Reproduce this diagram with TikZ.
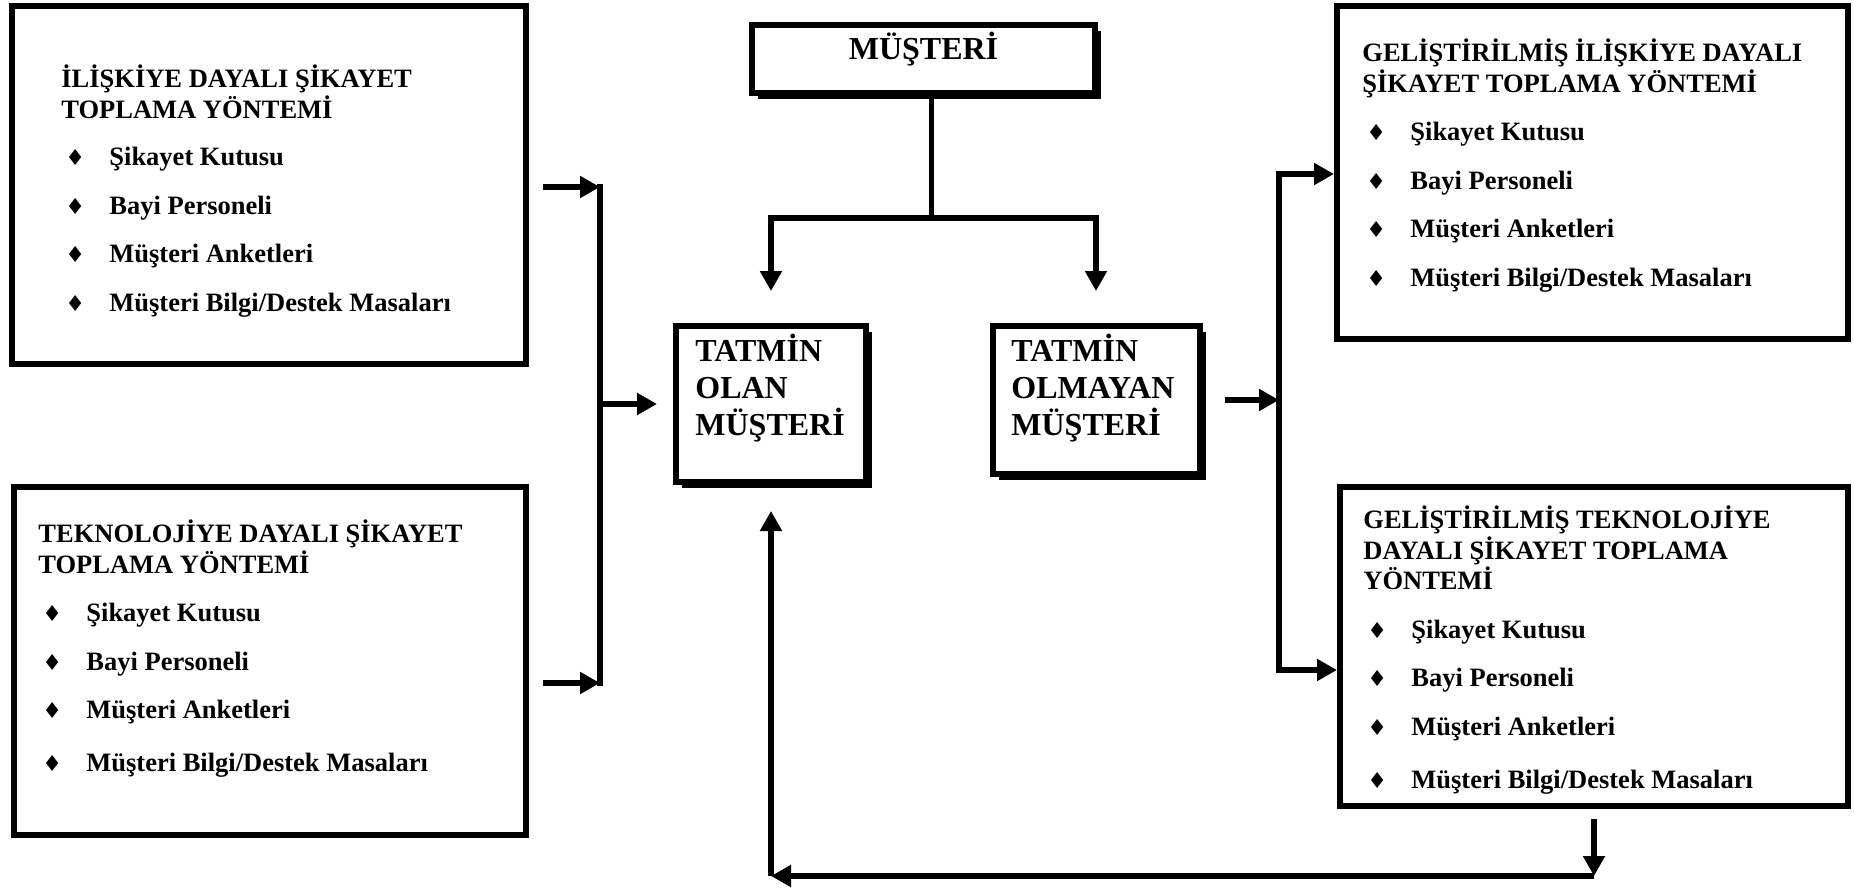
\documentclass[tikz,border=0pt]{standalone}
\usepackage{fontspec}
\setmainfont{Liberation Serif}
\newfontfamily\simgefont{DejaVu Sans}
\usetikzlibrary{arrows.meta,shadows}
\newcommand{\karo}{{\simgefont\fontsize{11}{11}\selectfont ♦}}
\newcommand{\madde}[1]{\hspace*{2pt}\makebox[22pt][l]{\karo}#1}
\newcommand{\ustdestek}{\rule{0pt}{12pt}}
\newcommand{\buyukdestek}{\rule{0pt}{14pt}}
\begin{document}
\begin{tikzpicture}[x=0.5pt, y=-0.5pt,
	kutu/.style={draw, line width=3pt, fill=white, inner sep=0pt},
	golgeli/.style={kutu, drop shadow={shadow xshift=3pt, shadow yshift=-3pt, fill=black, opacity=1}},
	yazi/.style={inner sep=0pt, align=left, anchor=north west, font=\bfseries\fontsize{13.25}{15.3}\selectfont},
	buyukyazi/.style={inner sep=0pt, align=left, anchor=north west, font=\bfseries\fontsize{16}{18.6}\selectfont},
	hat/.style={line width=2.7pt},
	ok/.style={line width=3.2pt, -{Triangle[length=10pt,width=10.5pt]}}]
	\useasboundingbox (0,0) rectangle (1854,888);
	% kutular
	\node[kutu, minimum width=257pt, minimum height=179pt] (iliski) at (269,185) {};
	\node[kutu, minimum width=256pt, minimum height=174pt] (teknoloji) at (270,661) {};
	\node[kutu, minimum width=255.5pt, minimum height=166.5pt] (gelIliski) at (1592.5,172.5) {};
	\node[kutu, minimum width=254pt, minimum height=159.5pt] (gelTeknoloji) at (1594,646.5) {};
	\node[golgeli, minimum width=171.5pt, minimum height=34pt] (musteri) at (923.5,59) {};
	\node[golgeli, minimum width=95pt, minimum height=78pt] (olan) at (771,404) {};
	\node[golgeli, minimum width=103.5pt, minimum height=74pt] (olmayan) at (1096,400) {};
	% yazilar
	\node[yazi] (iliskiYazi) at (61,63) {\ustdestek İLİŞKİYE DAYALI ŞİKAYET\\TOPLAMA YÖNTEMİ\\[8.5pt]
		\madde{Şikayet Kutusu}\\[9pt]\madde{Bayi Personeli}\\[9pt]\madde{Müşteri Anketleri}\\[9pt]\madde{Müşteri Bilgi/Destek Masaları}};
	\node[yazi] (teknolojiYazi) at (38,518) {\ustdestek TEKNOLOJİYE DAYALI ŞİKAYET\\TOPLAMA YÖNTEMİ\\[9pt]
		\madde{Şikayet Kutusu}\\[9pt]\madde{Bayi Personeli}\\[9pt]\madde{Müşteri Anketleri}\\[11pt]\madde{Müşteri Bilgi/Destek Masaları}};
	\node[yazi] (gelIliskiYazi) at (1362,37) {\ustdestek GELİŞTİRİLMİŞ İLİŞKİYE DAYALI\\ŞİKAYET TOPLAMA YÖNTEMİ\\[9pt]
		\madde{Şikayet Kutusu}\\[9pt]\madde{Bayi Personeli}\\[9pt]\madde{Müşteri Anketleri}\\[9pt]\madde{Müşteri Bilgi/Destek Masaları}};
	\node[yazi] (gelTeknolojiYazi) at (1363,504) {\ustdestek GELİŞTİRİLMİŞ TEKNOLOJİYE\\DAYALI ŞİKAYET TOPLAMA\\YÖNTEMİ\\[9pt]
		\madde{Şikayet Kutusu}\\[9pt]\madde{Bayi Personeli}\\[9pt]\madde{Müşteri Anketleri}\\[11pt]\madde{Müşteri Bilgi/Destek Masaları}};
	\node[buyukyazi, anchor=center] (musteriYazi) at ([yshift=5pt]musteri.center) {MÜŞTERİ};
	\node[buyukyazi] (olanYazi) at (695,333) {\buyukdestek TATMİN\\OLAN\\MÜŞTERİ};
	\node[buyukyazi] (olmayanYazi) at (1011,333) {\buyukdestek TATMİN\\OLMAYAN\\MÜŞTERİ};
	% musteri catali
	\coordinate (catal) at ([xshift=4pt, yshift=-61pt]musteri.south);
	\draw[hat] ([xshift=4pt]musteri.south) -- (catal);
	\draw[ok, shorten >=16pt] (catal) -| (olan.north);
	\draw[ok, shorten >=16pt] (catal) -| (olmayan.north);
	% sol baglanti
	\coordinate (solUst) at (600,187);
	\coordinate (solAlt) at (600,683);
	\draw[ok] ([xshift=7pt]iliski.east |- solUst) -- (solUst);
	\draw[ok] ([xshift=7pt]teknoloji.east |- solAlt) -- (solAlt);
	\draw[hat, line cap=rect] (solUst) -- (solAlt);
	\draw[ok, shorten >=8pt] (solUst |- olan.west) -- (olan.west);
	% sag baglanti
	\coordinate (sagUst) at (1279,174);
	\coordinate (sagAlt) at (1279,670);
	\draw[ok] ([xshift=11pt]olmayan.east) -- (olmayan.east -| sagUst);
	\draw[hat, line cap=rect] (sagUst) -- (sagAlt);
	\draw[ok] (sagUst) -- (sagUst -| gelIliski.west);
	\draw[ok] (sagAlt) -- (sagAlt -| gelTeknoloji.west);
	% geri donus
	\coordinate (altSag) at (gelTeknoloji.south |- 0,876);
	\coordinate (altSol) at (olan.south |- altSag);
	\draw[ok] ([yshift=-5pt]gelTeknoloji.south) -- (altSag);
	\draw[ok] (altSag) -- (altSol);
	\draw[ok, shorten >=13pt] (altSol) -- (olan.south);
\end{tikzpicture}
\end{document}
